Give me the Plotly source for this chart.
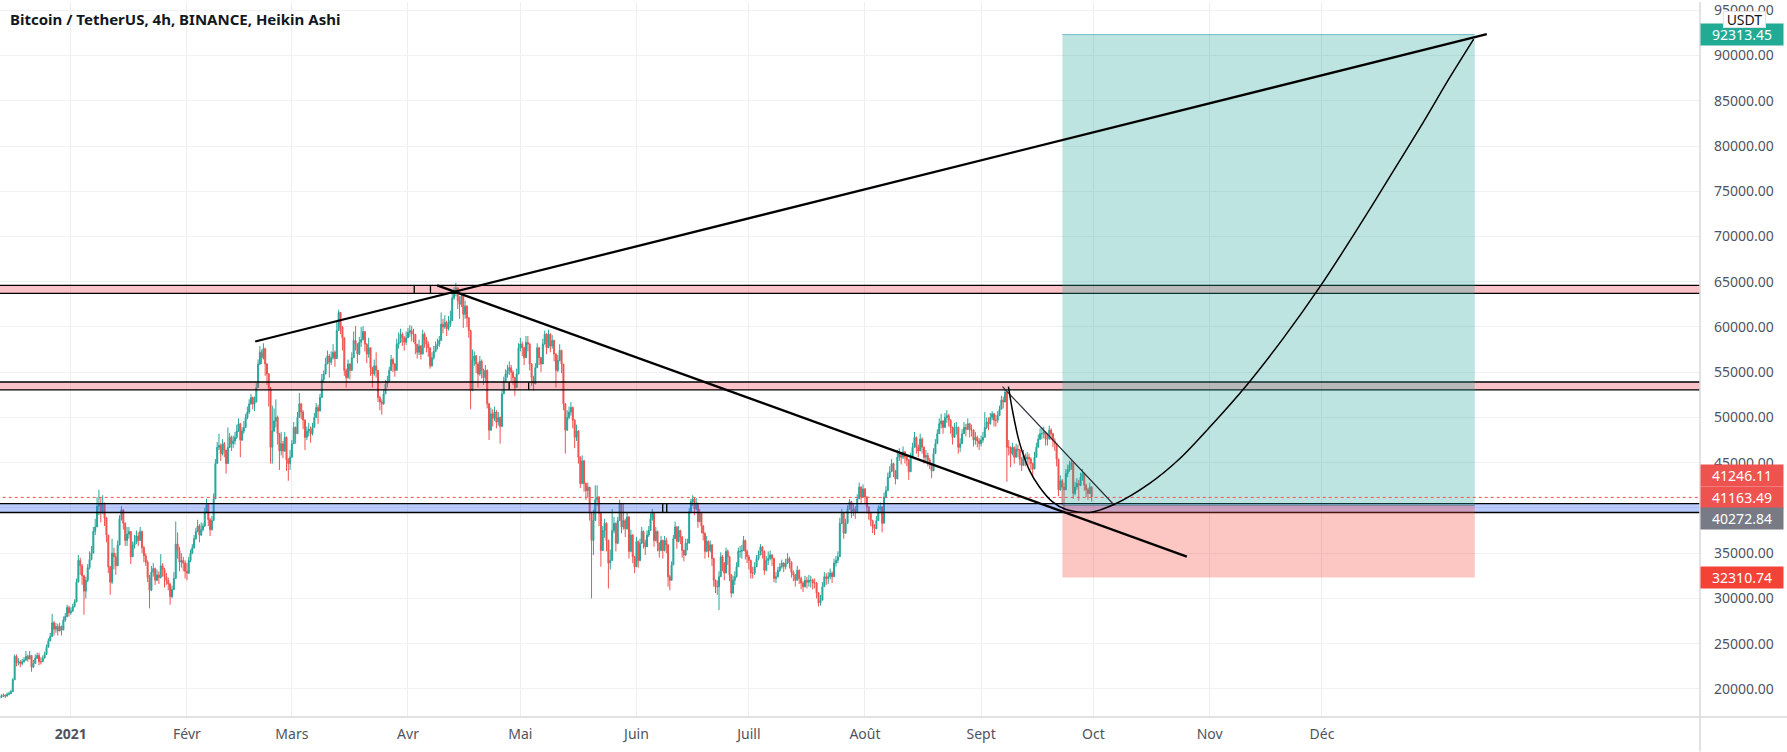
import pandas as pd
import plotly.graph_objects as go

# Candles: (close, high, low) in thousands of USDT, about two per day
dec20 = [(19.1,19.4,18.9),(19.2,19.4,19.0),(19.3,19.5,19.1),(19.2,19.4,19.0),(19.4,19.6,19.2),(19.5,19.7,19.3),(19.7,19.9,19.4),(21.0,21.2,19.7),(23.6,23.8,21.0),(22.9,23.8,22.5),(23.0,23.4,22.6),(22.8,23.2,22.4),(23.0,23.3,22.6),(23.2,23.5,22.9),(23.6,24.2,23.1),(23.3,23.8,23.0),(23.7,24.2,23.3),(22.4,23.7,21.9),(22.8,23.2,22.3),(23.4,23.8,22.8),(23.7,24.0,23.3),(23.0,24.0,22.6),(23.0,23.5,22.7),(23.4,23.7,23.0),(23.8,24.1,23.4),(24.6,24.9,23.8),(25.3,25.6,24.6),(25.8,26.2,25.3),(27.3,28.3,25.8),(26.6,27.5,25.9),(26.9,27.3,26.2),(26.4,27.2,25.9),(26.9,27.3,26.4),(26.5,27.0,25.9),(27.6,28.0,26.5),(28.0,28.4,27.4),(29.0,29.3,27.9),(28.4,29.2,28.0)]
jan21 = [(28.6,29.0,28.2),(29.1,29.4,28.5),(29.6,29.9,29.0),(31.8,32.2,29.6),(34.2,34.8,31.8),(33.6,34.5,32.6),(32.5,33.8,31.5),(30.8,32.6,28.2),(32.0,32.4,30.0),(33.4,33.8,31.8),(34.3,35.2,33.2),(35.0,35.8,34.2),(37.4,37.9,35.0),(37.9,38.8,37.0),(40.2,41.2,37.9),(40.5,42.0,39.2),(39.6,41.2,38.4),(40.4,41.4,39.3),(38.9,40.6,38.0),(37.0,39.0,36.2),(33.5,37.0,32.8),(31.8,33.6,30.4),(35.0,36.6,31.6),(34.6,35.6,33.2),(33.6,35.0,32.6),(35.9,36.4,33.6),(38.8,39.2,35.9),(39.8,40.2,38.6),(38.3,39.8,37.6),(36.4,38.4,35.8),(37.1,37.9,35.8),(37.4,37.9,36.6),(34.6,37.4,33.8),(35.9,36.3,34.6),(36.2,37.0,35.5),(36.9,37.5,36.0),(36.4,37.3,35.8),(37.4,37.9,36.4),(35.6,37.5,35.0),(34.7,35.8,34.0),(34.0,35.0,33.6),(32.3,34.2,31.8),(30.9,32.6,28.9),(32.9,33.6,30.8),(33.3,33.9,32.4),(32.0,33.4,31.5),(32.6,33.2,31.9),(32.3,33.0,31.6),(33.6,34.9,32.2),(33.2,33.9,32.4),(32.4,33.4,31.2),(32.0,32.8,31.5),(31.6,32.3,30.9),(30.2,31.7,29.3),(31.0,31.4,30.0),(32.2,32.9,30.9),(36.0,38.5,32.2),(35.3,37.3,34.4),(34.0,35.7,33.0),(34.2,35.0,33.4),(33.9,34.6,33.0),(33.0,34.2,32.2)]
feb21 = [(32.8,33.9,32.0),(34.2,34.6,32.7),(35.0,35.4,34.0),(35.6,36.0,34.9),(36.6,37.0,35.5),(37.4,37.8,36.5),(38.0,38.7,37.3),(37.0,38.2,36.2),(37.6,38.4,36.9),(38.0,38.3,37.4),(39.5,40.0,37.9),(40.4,41.0,39.4),(38.7,40.5,38.0),(37.6,38.9,36.9),(38.6,39.1,37.5),(41.0,41.6,38.6),(44.9,45.4,41.0),(46.7,47.3,44.9),(46.9,48.2,46.4),(46.0,47.1,45.2),(47.1,47.6,45.8),(46.4,47.3,45.6),(44.9,46.4,43.8),(46.7,48.9,44.9),(47.8,48.3,46.6),(47.1,48.0,46.3),(47.4,48.0,46.6),(47.8,48.4,47.0),(48.5,49.2,47.6),(49.3,49.9,48.4),(47.5,49.4,45.6),(48.5,48.9,47.4),(48.9,49.6,48.2),(50.0,50.4,48.9),(50.6,51.2,49.8),(51.5,52.0,50.4),(52.2,52.6,51.4),(51.5,52.3,50.9),(51.7,52.3,50.7),(53.3,53.8,51.7),(55.9,56.4,53.3),(57.2,57.9,55.8),(56.6,57.5,55.9),(57.6,58.2,56.4),(55.9,57.7,54.6),(54.8,56.0,53.6),(53.3,54.9,51.2),(46.7,53.3,44.9),(48.5,51.3,44.9),(49.6,51.0,48.4),(50.0,52.0,48.9),(48.2,50.2,47.0),(46.3,48.3,44.2),(47.1,48.4,45.8),(46.3,47.4,45.5),(47.8,48.4,46.2),(45.3,47.9,44.1),(44.9,45.5,43.0),(45.6,46.4,44.2)]
mar21 = [(47.1,47.5,45.6),(48.9,49.5,47.1),(48.2,49.0,47.1),(50.0,50.6,48.2),(51.5,52.7,50.0),(50.6,51.6,49.8),(49.7,50.8,48.7),(47.8,49.8,46.4),(48.5,49.0,47.5),(48.7,49.4,47.9),(48.2,49.0,47.2),(48.9,49.4,48.0),(50.0,50.5,48.9),(51.1,51.6,50.0),(50.7,51.4,49.3),(52.2,52.6,50.7),(54.2,54.8,52.2),(54.8,55.2,53.8),(55.9,56.6,54.8),(56.8,57.4,55.9),(56.1,57.0,54.4),(56.6,57.3,55.8),(57.2,58.1,56.4),(56.5,57.4,55.6),(59.6,60.6,56.5),(61.6,61.9,59.6),(60.0,61.6,59.2),(58.8,60.1,57.4),(55.2,58.8,54.6),(54.4,55.4,53.3),(55.9,56.4,54.3),(55.2,56.0,54.2),(56.6,57.2,55.2),(58.5,59.5,56.6),(58.1,60.1,57.4),(57.0,58.2,56.0),(58.3,58.9,56.9),(58.6,60.0,57.8),(59.5,60.1,58.5),(58.1,59.5,57.3),(57.0,58.2,56.0),(57.7,58.8,56.6),(55.5,57.7,54.6),(54.8,55.6,53.3),(55.7,56.4,54.6),(55.2,57.2,54.4),(52.2,55.2,51.7),(51.7,52.4,50.8),(51.5,52.0,50.3),(52.6,53.1,51.4),(53.7,54.1,52.6),(54.0,54.6,53.3),(55.2,55.6,54.0),(56.4,56.9,55.2),(55.9,56.6,55.0),(55.2,56.0,54.5),(58.1,58.7,55.2),(58.3,59.4,57.6),(59.2,59.8,58.3),(58.8,59.4,57.9),(58.3,59.0,57.4),(58.8,59.5,58.0)]
apr21 = [(59.4,59.9,58.8),(59.6,60.2,58.9),(59.2,60.1,58.4),(59.2,59.8,58.3),(58.1,59.2,57.0),(57.2,58.1,56.5),(57.9,58.6,56.9),(57.0,58.0,56.4),(59.2,59.7,57.0),(58.6,59.4,57.7),(58.1,58.9,57.2),(57.7,58.4,56.7),(55.7,57.7,55.4),(56.6,57.2,55.6),(57.3,57.9,56.4),(57.9,58.4,57.2),(58.1,58.7,57.5),(58.5,59.0,57.8),(60.3,61.6,58.5),(60.0,60.9,59.3),(60.5,61.3,59.8),(59.8,60.7,59.0),(60.3,61.2,59.6),(60.7,61.8,60.0),(63.2,63.8,60.7),(64.0,64.4,63.0),(64.3,64.9,63.4),(62.9,64.4,62.0),(62.5,63.4,60.9),(63.4,63.8,62.2),(61.4,63.4,59.9),(62.3,62.9,60.9),(61.0,62.4,60.0),(59.6,61.1,58.8),(53.0,59.7,50.9),(56.3,57.5,52.9),(56.8,57.3,55.7),(55.9,56.9,54.9),(54.8,56.1,53.3),(56.2,56.8,54.6),(55.2,56.4,54.3),(54.4,55.4,53.6),(55.2,55.8,54.0),(51.5,55.3,51.0),(48.6,51.6,47.5),(50.4,51.1,48.5),(49.9,50.9,49.0),(50.6,51.2,49.6),(49.5,50.8,48.8),(50.0,50.6,49.1),(49.0,50.1,47.1),(52.6,53.0,49.0),(54.0,54.5,52.6),(54.8,55.3,53.9),(55.2,55.8,54.4),(55.5,56.2,54.7),(55.0,55.8,54.0),(54.4,55.2,53.6),(53.3,54.5,52.4),(54.8,55.4,53.3),(57.7,58.2,54.8)]
may21 = [(58.1,58.8,57.3),(57.7,58.4,56.8),(56.6,57.8,55.8),(58.3,59.0,56.6),(58.1,59.0,57.3),(55.9,58.2,55.2),(54.4,56.0,53.5),(53.7,54.6,53.0),(55.5,56.0,53.7),(57.7,58.2,55.5),(56.6,57.8,55.8),(55.9,56.7,55.0),(58.1,58.7,55.9),(59.2,59.6,58.1),(57.7,59.3,57.0),(59.2,59.7,57.7),(57.9,59.3,57.2),(58.5,59.1,57.6),(57.0,58.6,56.2),(55.2,57.1,53.3),(56.3,56.9,55.0),(57.4,58.1,56.2),(55.9,57.5,54.9),(51.5,55.9,50.8),(48.6,51.6,46.0),(50.0,50.8,48.5),(50.6,51.2,49.8),(51.1,51.7,50.2),(49.7,51.2,48.8),(47.8,49.8,46.6),(48.5,49.2,47.4),(45.6,48.6,44.9),(42.7,45.7,42.2),(45.2,45.8,42.6),(42.7,45.3,41.8),(41.9,42.8,40.9),(42.3,42.8,41.2),(39.4,42.1,38.6),(36.4,39.4,30.0),(38.6,39.8,34.8),(40.9,42.5,38.6),(41.2,42.5,40.2),(39.4,41.3,38.0),(35.3,39.4,33.5),(37.5,38.0,35.3),(38.3,38.8,36.7),(36.4,38.4,35.2),(33.9,36.5,31.1),(34.2,35.4,33.2),(37.5,39.9,34.2),(38.3,39.0,37.2),(36.1,38.4,35.2),(38.6,39.0,36.0),(40.5,40.9,38.6),(37.9,40.5,37.2),(38.6,40.5,37.6),(37.7,38.8,36.8),(39.0,39.5,37.6),(35.2,39.1,34.4),(37.0,37.6,35.1),(34.6,37.1,33.9),(33.5,34.7,32.8)]
jun21 = [(36.3,36.8,33.5),(34.2,36.4,33.4),(36.1,36.6,34.1),(37.4,37.9,36.0),(36.2,37.5,35.5),(35.7,36.5,34.8),(37.0,37.5,35.7),(37.5,38.0,36.8),(38.8,39.4,37.5),(39.4,39.9,38.6),(36.4,39.5,35.7),(37.4,37.9,36.3),(36.1,37.5,35.2),(35.3,36.2,34.5),(36.4,36.9,35.2),(35.3,36.5,34.4),(36.4,36.9,35.2),(35.9,36.7,35.0),(32.4,36.0,31.3),(32.0,32.6,30.9),(33.7,34.1,32.0),(36.6,37.0,33.7),(37.9,38.5,36.6),(36.3,38.0,35.5),(37.5,38.0,36.2),(36.8,37.6,36.0),(35.3,36.9,34.5),(34.8,35.4,34.1),(36.1,36.6,34.7),(36.1,36.6,35.3),(39.6,40.0,36.1),(40.7,41.0,39.5),(41.0,41.4,40.2),(39.9,41.1,39.2),(40.5,41.1,39.7),(38.5,40.6,37.8),(39.4,39.9,38.4),(38.0,39.5,37.2),(37.2,38.1,36.4),(35.2,37.3,34.4),(36.3,36.9,35.1),(35.3,36.4,34.5),(35.9,36.4,35.1),(34.4,36.0,33.6),(32.0,34.5,31.3),(31.3,32.1,30.6),(31.3,32.0,30.4),(32.4,33.0,28.7),(34.6,35.1,32.4),(33.9,34.8,33.0),(32.8,34.0,32.0),(35.2,35.6,32.8),(34.6,35.4,33.7),(32.6,34.7,31.9),(30.6,32.7,30.1),(32.0,32.5,30.5),(32.4,33.0,31.5),(33.5,34.0,32.3),(35.2,35.6,33.5),(35.2,35.8,34.5),(35.3,35.9,34.4),(36.4,36.9,35.3),(35.2,36.5,34.3),(34.6,35.4,33.9)]
jul21 = [(34.2,34.8,33.2),(32.8,34.3,32.2),(32.8,33.5,32.2),(33.5,34.0,32.6),(34.4,34.8,33.5),(34.8,35.3,34.2),(35.7,36.0,34.8),(35.2,35.8,34.4),(33.1,35.3,32.6),(34.2,34.7,33.0),(34.4,35.2,33.7),(34.8,35.3,34.2),(34.4,34.9,33.6),(32.2,34.5,31.8),(32.4,32.9,31.7),(33.1,33.5,32.3),(33.5,33.9,32.9),(33.9,34.3,33.3),(33.5,34.0,32.9),(33.9,34.4,33.2),(34.4,35.0,33.8),(34.0,34.6,33.3),(32.9,34.1,32.3),(32.6,33.1,31.9),(32.0,32.7,31.3),(33.1,33.6,32.0),(32.2,33.2,31.6),(31.7,32.4,31.0),(31.3,31.9,30.7),(32.0,32.5,31.2),(31.8,32.4,31.1),(32.0,32.6,31.3),(32.0,32.5,31.2),(31.7,32.2,31.0),(31.7,32.2,31.1),(30.6,31.8,30.0),(29.5,30.7,29.1),(29.8,30.4,29.2),(31.3,31.8,29.8),(32.4,32.9,31.3),(32.2,32.8,31.5),(32.4,32.9,31.6),(32.8,33.3,32.1),(32.4,33.0,31.7),(33.9,34.4,32.4),(34.2,34.7,33.5),(34.6,35.2,33.9),(38.3,38.9,34.6),(39.4,39.9,38.2),(37.2,39.5,36.6),(38.3,38.8,37.2),(39.9,40.3,38.3),(40.7,41.0,39.8),(39.6,40.8,38.9),(39.9,40.5,39.1),(39.6,40.2,38.8),(41.0,41.5,39.6),(42.3,42.8,41.0),(41.2,42.4,40.4),(42.1,42.6,41.2)]
aug21 = [(41.2,42.2,40.4),(40.1,41.3,39.4),(39.4,40.2,38.7),(38.6,39.5,38.0),(37.9,38.7,37.2),(37.7,38.2,37.0),(38.6,39.1,37.7),(39.9,40.3,38.6),(40.1,40.6,39.4),(38.3,40.2,37.3),(41.2,41.7,38.3),(41.9,42.4,41.1),(43.4,43.9,41.9),(44.0,44.6,43.3),(44.9,45.4,44.0),(44.1,45.0,43.4),(43.2,44.2,42.6),(45.6,46.4,43.2),(46.0,46.6,45.2),(45.6,46.2,44.8),(46.2,46.8,45.4),(45.6,46.3,44.9),(45.3,45.9,44.6),(44.0,45.4,43.1),(45.6,46.1,44.0),(46.7,47.2,45.6),(47.8,48.4,46.7),(46.7,47.9,46.0),(46.3,47.0,45.6),(47.6,48.2,46.3),(46.7,47.8,46.0),(45.6,46.8,44.9),(45.8,46.4,45.1),(45.3,46.1,44.6),(44.9,45.5,44.3),(44.1,45.0,43.3),(46.0,46.6,44.1),(47.1,47.6,46.0),(48.2,48.7,47.1),(49.3,49.9,48.2),(49.6,50.4,48.8),(48.9,49.7,48.2),(50.0,50.5,48.9),(50.2,50.8,49.4),(49.7,50.4,49.0),(48.9,49.8,48.2),(47.8,49.0,47.0),(48.9,49.4,47.8),(48.9,49.5,48.1),(46.7,49.0,46.0),(47.1,47.7,46.2),(48.2,48.7,47.1),(48.9,49.5,48.2),(48.7,49.3,47.9),(49.3,49.9,48.6),(48.6,49.4,47.8),(48.6,49.2,47.9),(47.5,48.7,46.8),(47.8,48.4,47.0),(47.4,48.0,46.7),(47.1,47.7,46.4)]
sep21 = [(47.5,48.0,46.8),(47.8,48.4,47.2),(48.9,50.6,47.8),(49.5,50.0,48.7),(49.3,50.0,48.6),(50.0,50.5,49.2),(50.4,50.7,49.7),(49.7,50.5,49.0),(49.7,50.3,49.0),(50.2,50.7,49.4),(50.9,51.3,50.2),(51.9,52.4,50.9),(51.7,52.3,51.0),(52.8,53.1,51.7),(46.7,52.8,42.9),(46.7,47.5,45.8),(46.0,46.8,44.5),(46.7,47.2,45.8),(45.6,46.8,44.9),(46.5,47.1,45.6),(46.4,47.0,45.6),(45.4,46.5,44.7),(44.7,45.6,44.1),(45.8,46.4,44.7),(45.4,46.0,44.6),(45.6,46.2,44.9),(45.4,46.0,44.7),(44.9,45.6,44.2),(44.3,45.0,43.4),(45.6,46.2,44.3),(46.7,47.2,45.6),(47.6,48.1,46.7),(48.2,48.8,47.5),(48.2,48.9,47.6),(48.4,49.0,47.7),(47.6,48.5,46.9),(47.6,48.3,46.9),(48.6,49.1,47.6),(48.2,48.8,47.5),(47.4,48.3,46.7),(47.1,47.7,46.3),(45.4,47.2,44.6),(42.0,45.4,41.3),(43.0,43.6,41.9),(42.3,43.2,40.3),(42.0,42.8,39.7),(43.8,44.3,42.0),(44.2,44.8,43.4),(44.7,45.2,44.0),(45.0,45.3,44.2),(41.6,45.0,41.0),(42.3,42.9,41.4),(42.7,43.3,42.0),(42.5,43.1,40.8),(43.4,43.9,42.4),(43.8,44.3,43.0),(42.5,43.9,41.9),(42.0,42.7,41.2),(41.6,42.2,40.9),(42.3,42.8,41.5),(41.2,42.4,40.7)]

month_rows = [dec20, jan21, feb21, mar21, apr21, may21, jun21, jul21, aug21, sep21]
month_starts = ["2020-12-13","2021-01-01","2021-02-01","2021-03-01","2021-04-01","2021-05-01",
                "2021-06-01","2021-07-01","2021-08-01","2021-09-01","2021-10-01"]

# Drawn lines: (date, price)
up_dates = ["2021-02-19 05:00", "2022-01-14 00:00"]
up_prices = [58393, 92357]
down_dates = ["2021-04-08 19:00", "2021-10-25 22:00"]
down_prices = [64604, 34626]
wedge_dates = ["2021-09-06 17:00", "2021-10-06 14:00"]
wedge_prices = [53404, 40299]
curve_dates = ["2021-09-08 07:00","2021-09-09 11:00","2021-09-11 05:00","2021-09-13 22:00","2021-09-16 14:00",
               "2021-09-20 02:00","2021-09-23 17:00","2021-09-29 22:00","2021-10-06 14:00","2021-10-16 00:00",
               "2021-10-24 00:00","2021-11-01 00:00","2021-11-10 19:00","2021-11-20 12:00","2021-11-30 07:00",
               "2021-12-10 02:00","2021-12-19 00:00","2021-12-27 22:00","2022-01-04 00:00","2022-01-10 12:00"]
curve_prices = [53404,50574,47271,44153,42314,40662,39825,39495,40408,42721,45441,48920,53514,58657,64340,70584,76531,82533,87489,91806]

zone_tops = [64604, 53920, 40486]
zone_bottoms = [63723, 53040, 39495]
zone_colors = ["rgba(242,54,69,0.3)", "rgba(242,54,69,0.3)", "rgba(41,98,255,0.33)"]
divider_dates = [["2021-04-02 16:00","2021-04-07 00:00"], ["2021-04-28 00:00","2021-05-03 05:00"], ["2021-06-08 00:00","2021-06-09 02:00"]]

position_start, position_end = "2021-09-22 17:00", "2022-01-10 19:00"
target_price, entry_price, stop_price = 92313.45, 40272.84, 32310.74
dotted_price = 41163.49

price_ticks = [20000,25000,30000,35000,40000,45000,50000,55000,60000,65000,70000,75000,80000,85000,90000,95000]
date_ticks = ["2021-01-01","2021-02-01","2021-03-01","2021-04-01","2021-05-01","2021-06-01",
              "2021-07-01","2021-08-01","2021-09-01","2021-10-01","2021-11-01","2021-12-01"]
date_labels = ["<b>2021</b>","Févr","Mars","Avr","Mai","Juin","Juill","Août","Sept","Oct","Nov","Déc"]
tags = [("92313.45", 92313.45, 0, "#22ab94"), ("41246.11", 41246.11, 20.7, "#ef5350"),
        ("41163.49", 41163.49, 0, "#ef5350"), ("40272.84", 40272.84, -13, "#787b86"),
        ("32310.74", 32310.74, 0, "#f44336")]

# Assemble the candles
dates, closes, highs, lows = [], [], [], []
for rows, a, b in zip(month_rows, month_starts[:-1], month_starts[1:]):
    dates += list(pd.date_range(a, b, periods=len(rows) + 1)[:-1])
    for c, h, l in rows:
        closes.append(c * 1000); highs.append(h * 1000); lows.append(l * 1000)
opens = [closes[0]] + closes[:-1]
highs = [max(h, o, c) for h, o, c in zip(highs, opens, closes)]
lows = [min(l, o, c) for l, o, c in zip(lows, opens, closes)]

fig = go.Figure()
fig.add_trace(go.Candlestick(
    x=dates, open=opens, high=highs, low=lows, close=closes,
    increasing=dict(line=dict(color="#26a69a", width=1), fillcolor="#26a69a"),
    decreasing=dict(line=dict(color="#ef5350", width=1), fillcolor="#ef5350"),
    whiskerwidth=0, hoverinfo="skip", showlegend=False))

far_l, far_r = "2020-12-01", "2022-04-01"
for top, bottom, color in zip(zone_tops, zone_bottoms, zone_colors):
    fig.add_trace(go.Scatter(x=[far_l, far_r, far_r, far_l, far_l], y=[top, top, bottom, bottom, top],
                             mode="lines", fill="toself", fillcolor=color,
                             line=dict(color="#000000", width=1.3), hoverinfo="skip", showlegend=False))
for pair, top, bottom in zip(divider_dates, zone_tops, zone_bottoms):
    for d in pair:
        fig.add_trace(go.Scatter(x=[d, d], y=[top, bottom], mode="lines",
                                 line=dict(color="#000000", width=1.3), hoverinfo="skip", showlegend=False))

xs = [position_start, position_end, position_end, position_start, position_start]
fig.add_trace(go.Scatter(x=xs, y=[target_price, target_price, entry_price, entry_price, target_price],
                         mode="none", fill="toself", fillcolor="rgba(38,166,154,0.3)", hoverinfo="skip", showlegend=False))
fig.add_trace(go.Scatter(x=xs, y=[entry_price, entry_price, stop_price, stop_price, entry_price],
                         mode="none", fill="toself", fillcolor="rgba(244,67,54,0.3)", hoverinfo="skip", showlegend=False))
fig.add_trace(go.Scatter(x=[position_start, position_end], y=[target_price, target_price], mode="lines",
                         line=dict(color="rgba(90,175,195,0.8)", width=1), hoverinfo="skip", showlegend=False))
fig.add_trace(go.Scatter(x=[position_start, position_end], y=[entry_price, entry_price], mode="lines",
                         line=dict(color="rgba(120,123,134,0.8)", width=1), hoverinfo="skip", showlegend=False))

fig.add_trace(go.Scatter(x=[far_l, far_r], y=[dotted_price, dotted_price], mode="lines",
                         line=dict(color="#ef5350", width=1, dash="dot"), hoverinfo="skip", showlegend=False))
fig.add_trace(go.Scatter(x=up_dates, y=up_prices, mode="lines", line=dict(color="#000000", width=2.3), hoverinfo="skip", showlegend=False))
fig.add_trace(go.Scatter(x=down_dates, y=down_prices, mode="lines", line=dict(color="#000000", width=2.3), hoverinfo="skip", showlegend=False))
fig.add_trace(go.Scatter(x=wedge_dates, y=wedge_prices, mode="lines", line=dict(color="#2a2e39", width=1.2), hoverinfo="skip", showlegend=False))
fig.add_trace(go.Scatter(x=curve_dates, y=curve_prices, mode="lines", line=dict(color="#000000", width=1.5, shape="spline", smoothing=0.8), hoverinfo="skip", showlegend=False))

fig.update_layout(
    width=1787, height=752, autosize=False,
    margin=dict(l=0, r=87, t=0, b=34.5, pad=0),
    paper_bgcolor="#ffffff", plot_bgcolor="#ffffff",
    font=dict(family="Noto Sans, sans-serif", size=14, color="#50535e"),
    showlegend=False, boxgap=0.2,
    xaxis=dict(type="date", range=["2020-12-13 02:00", "2022-03-11 22:00"], rangeslider=dict(visible=False),
               tickmode="array", tickvals=date_ticks, ticktext=date_labels, showgrid=True,
               gridcolor="#eceef2", gridwidth=1, zeroline=False, showline=False, ticks="", ticklabelstandoff=7,
               tickfont=dict(size=14, color="#50535e")),
    yaxis=dict(side="right", range=[16894, 95914], tickmode="array", tickvals=price_ticks,
               ticktext=[f"{v:.2f}" for v in price_ticks], showgrid=True, gridcolor="#f0f1f4", gridwidth=1,
               zeroline=False, showline=False, ticks="", ticklabelstandoff=13, ticklabeloverflow="allow",
               tickfont=dict(size=14, color="#50535e")),
)

w_extra = 87 / 1700
h_extra = 34.5 / 717.5
fig.add_shape(type="line", xref="paper", yref="paper", x0=0, x1=1 + w_extra, y0=0, y1=0, line=dict(color="#d9d9d9", width=1.5), layer="above")
fig.add_shape(type="line", xref="paper", yref="paper", x0=1, x1=1, y0=-h_extra, y1=1, line=dict(color="#d9d9d9", width=1.5), layer="above")

annotations = [
    dict(text="<b>Bitcoin / TetherUS, 4h, BINANCE, Heikin Ashi</b>", xref="paper", yref="paper", x=8 / 1700, y=1 - 17.5 / 717.5,
         xanchor="left", yanchor="middle", showarrow=False, font=dict(size=15, color="#131722")),
]
for text, value, shift, color in tags:
    annotations.append(dict(text=text, xref="paper", yref="y", x=1, y=value, yshift=shift, xanchor="left", yanchor="middle",
                            showarrow=False, width=82, height=21, align="center", bgcolor=color, borderpad=0,
                            font=dict(size=14, color="#ffffff")))
annotations.append(dict(text="USDT", xref="paper", yref="paper", x=1744 / 1700, y=1 - 17.5 / 717.5, xanchor="center", yanchor="middle",
                        showarrow=False, width=41, height=15, bgcolor="#ffffff", bordercolor="#e0e3eb", borderwidth=1, borderpad=0,
                        font=dict(size=14, color="#131722")))
fig.update_layout(annotations=annotations)

fig.write_html("out.html", config=dict(displayModeBar=False),
               post_script="document.body.style.margin='0';document.body.style.overflow='hidden';")
